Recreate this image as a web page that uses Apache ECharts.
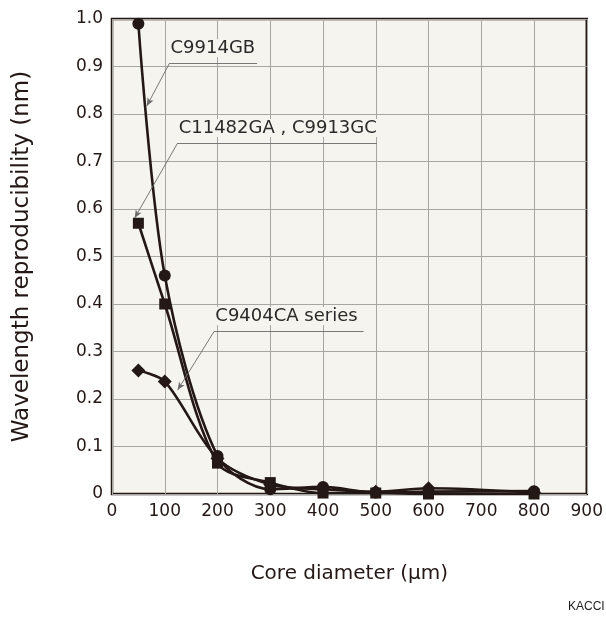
<!DOCTYPE html>
<html>
<head>
<meta charset="utf-8">
<script src="https://cdn.jsdelivr.net/npm/echarts@6/dist/echarts.min.js"></script>
<style>
  html, body { margin: 0; padding: 0; background: #fff; }
  #chart { width: 606px; height: 619px; }
</style>
</head>
<body>
<div id="chart"></div>
<script>
// core diameter (um)
const coreDiameter = [50, 100, 200, 300, 400, 500, 600, 800]
// wavelength reproducibility (nm)
const c9914gb = [0.99, 0.46, 0.08, 0.01, 0.015, 0.003, 0.005, 0.006]
const c11482ga = [0.57, 0.40, 0.065, 0.024, 0.002, 0.002, 0.0, 0.0]
const c9404ca = [0.26, 0.237, 0.075, 0.02, 0.01, 0.005, 0.012, 0.003]

const xTicks = [0, 100, 200, 300, 400, 500, 600, 700, 800, 900]
const yTicks = [0, 0.1, 0.2, 0.3, 0.4, 0.5, 0.6, 0.7, 0.8, 0.9, 1.0]

// callouts: label text, leader start (data coords), arrow tip, underline end x
const callouts = [
  { text: 'C9914GB', start: [109, 0.907], tip: [66, 0.817], endX: 275 },
  { text: 'C11482GA , C9913GC', start: [124.5, 0.739], tip: [43, 0.581], endX: 502 },
  { text: 'C9404CA series', start: [194, 0.343], tip: [124.5, 0.219], endX: 477 },
]

const ink = '#231815'
const plotBg = '#f6f4ee'
const font = '"DejaVu Sans", Verdana, sans-serif'

const chart = echarts.init(document.getElementById('chart'))

function makeSeries(name, values, symbol, size) {
  return {
    name: name,
    type: 'line',
    smooth: 0.3,
    data: coreDiameter.map((x, i) => [x, values[i]]),
    symbol: symbol,
    symbolSize: size,
    itemStyle: { color: ink },
    lineStyle: { color: ink, width: 2.6 },
    z: 3,
  }
}

const leaderLines = []
callouts.forEach(c => {
  leaderLines.push([{ coord: c.start, symbol: 'none' }, { coord: c.tip, symbol: 'arrow' }])
  leaderLines.push([{ coord: c.start, symbol: 'none' }, { coord: [c.endX, c.start[1]], symbol: 'none' }])
})

const series = [
  makeSeries('C9914GB', c9914gb, 'circle', 12),
  makeSeries('C11482GA , C9913GC', c11482ga, 'rect', 11),
  makeSeries('C9404CA series', c9404ca, 'diamond', 14),
]
series[0].markLine = {
  silent: true,
  symbolSize: [5, 8],
  label: { show: false },
  lineStyle: { color: '#6a6a6a', width: 0.9, type: 'solid' },
  data: leaderLines,
  animation: false,
}

chart.setOption({
  animation: false,
  backgroundColor: '#fff',
  grid: {
    left: 112, right: 17, top: 19, bottom: 125,
    show: true,
    backgroundColor: plotBg,
    borderColor: ink,
    borderWidth: 2.5,
  },
  xAxis: {
    type: 'value',
    min: xTicks[0],
    max: xTicks[xTicks.length - 1],
    interval: 100,
    name: 'Core diameter (\u00b5m)',
    nameLocation: 'middle',
    nameGap: 70,
    nameTextStyle: { fontFamily: font, fontSize: 20, color: ink },
    axisLine: { show: false },
    axisTick: { show: false },
    axisLabel: { fontFamily: font, fontSize: 17, color: ink, margin: 9 },
    splitLine: { show: true, lineStyle: { color: '#a8a6a2', width: 1 } },
  },
  yAxis: {
    type: 'value',
    min: yTicks[0],
    max: yTicks[yTicks.length - 1],
    interval: 0.1,
    name: 'Wavelength reproducibility (nm)',
    nameLocation: 'middle',
    nameGap: 78,
    nameTextStyle: { fontFamily: font, fontSize: 23, color: ink },
    axisLine: { show: false },
    axisTick: { show: false },
    axisLabel: {
      fontFamily: font, fontSize: 17, color: ink, margin: 9,
      formatter: v => (v === 0 ? '0' : v.toFixed(1)),
    },
    splitLine: { show: true, lineStyle: { color: '#a8a6a2', width: 1 } },
  },
  series: series,
})

// callout texts sit just above their underline
const texts = callouts.map(c => {
  const p = chart.convertToPixel({ gridIndex: 0 }, c.start)
  return {
    type: 'text',
    left: p[0] + 1,
    top: p[1] - 24,
    z: 10,
    style: {
      text: c.text,
      font: '18px ' + font,
      fill: '#2a2a2a',
      backgroundColor: plotBg,
      padding: [0, 2, 0, 0],
    },
  }
})
texts.push({
  type: 'text',
  left: 568,
  top: 601,
  style: { text: 'KACCI', font: '12px "Liberation Sans", Arial, sans-serif', fill: '#222' },
})
chart.setOption({ graphic: texts })
</script>
</body>
</html>
